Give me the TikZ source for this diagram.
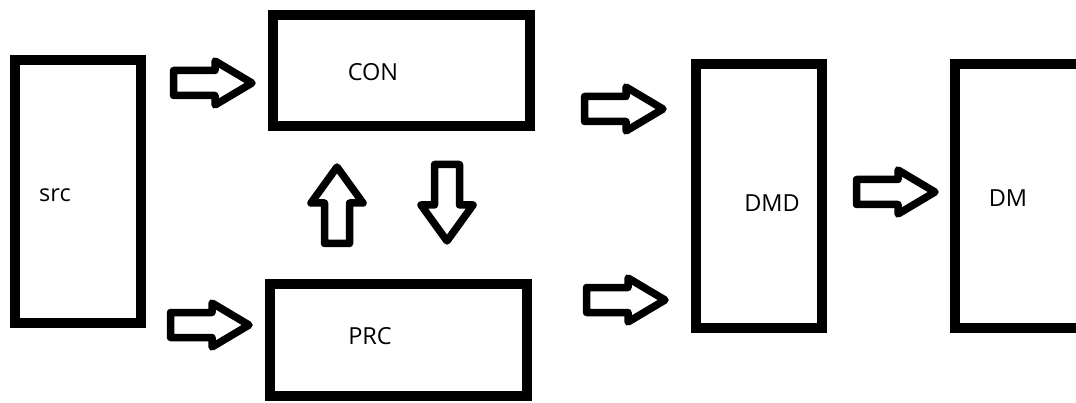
\documentclass[tikz,border=0pt]{standalone}
\usepackage{fontspec}
\setmainfont{Open Sans}
\begin{document}
\begin{tikzpicture}[x=1pt,y=1pt,
  box/.style={draw=black,line width=10pt,fill=white,minimum width=#1,inner sep=0pt,outer sep=0pt},
  lbl/.style={font=\fontsize{23.5}{26}\selectfont,text=black,inner sep=0pt},
  blockarrow/.pic={\draw[line width=7.5pt,line join=round,fill=white]
     (3.5,-12.5) -- (45,-12.5) -- (45,-22) -- (82,0) -- (45,22) -- (45,12.5) -- (3.5,12.5) -- cycle;},
  vblockarrow/.pic={\draw[line width=7.5pt,line join=round,fill=white]
     (3.5,-12.5) -- (44,-12.5) -- (44,-26) -- (80,0) -- (44,26) -- (44,12.5) -- (3.5,12.5) -- cycle;}]
\useasboundingbox (0,0) rectangle (1076,402);
\clip (0,0) rectangle (1076,402);
\fill[white] (0,0) rectangle (1076,402);
% boxes
\node[box=126pt,minimum height=263pt] (src) at (78,210.5) {};
\node[box=257pt,minimum height=111pt] (con) at (401.5,331.5) {};
\node[box=257pt,minimum height=112pt] (prc) at (398.5,62) {};
\node[box=126pt,minimum height=264pt] (dmd) at (759,206) {};
\node[box=126pt,minimum height=264pt] (dm) at (1018,206) {};
% labels
\node[lbl] (srct) at (55,207) {src};
\node[lbl] (cont) at (373,330) {CON};
\node[lbl] (prct) at (370,66) {PRC};
\node[lbl] (dmdt) at (772,198.5) {DMD};
\node[lbl] (dmt) at (1008,203.5) {DM};
% block arrows
\pic at (170,319) {blockarrow};
\pic at (167,77) {blockarrow};
\pic at (581,293) {blockarrow};
\pic at (583,102) {blockarrow};
\pic at (853,210) {blockarrow};
\pic[rotate=90] at (337,155) {vblockarrow};
\pic[rotate=-90] at (447,241) {vblockarrow};
\end{tikzpicture}
\end{document}
